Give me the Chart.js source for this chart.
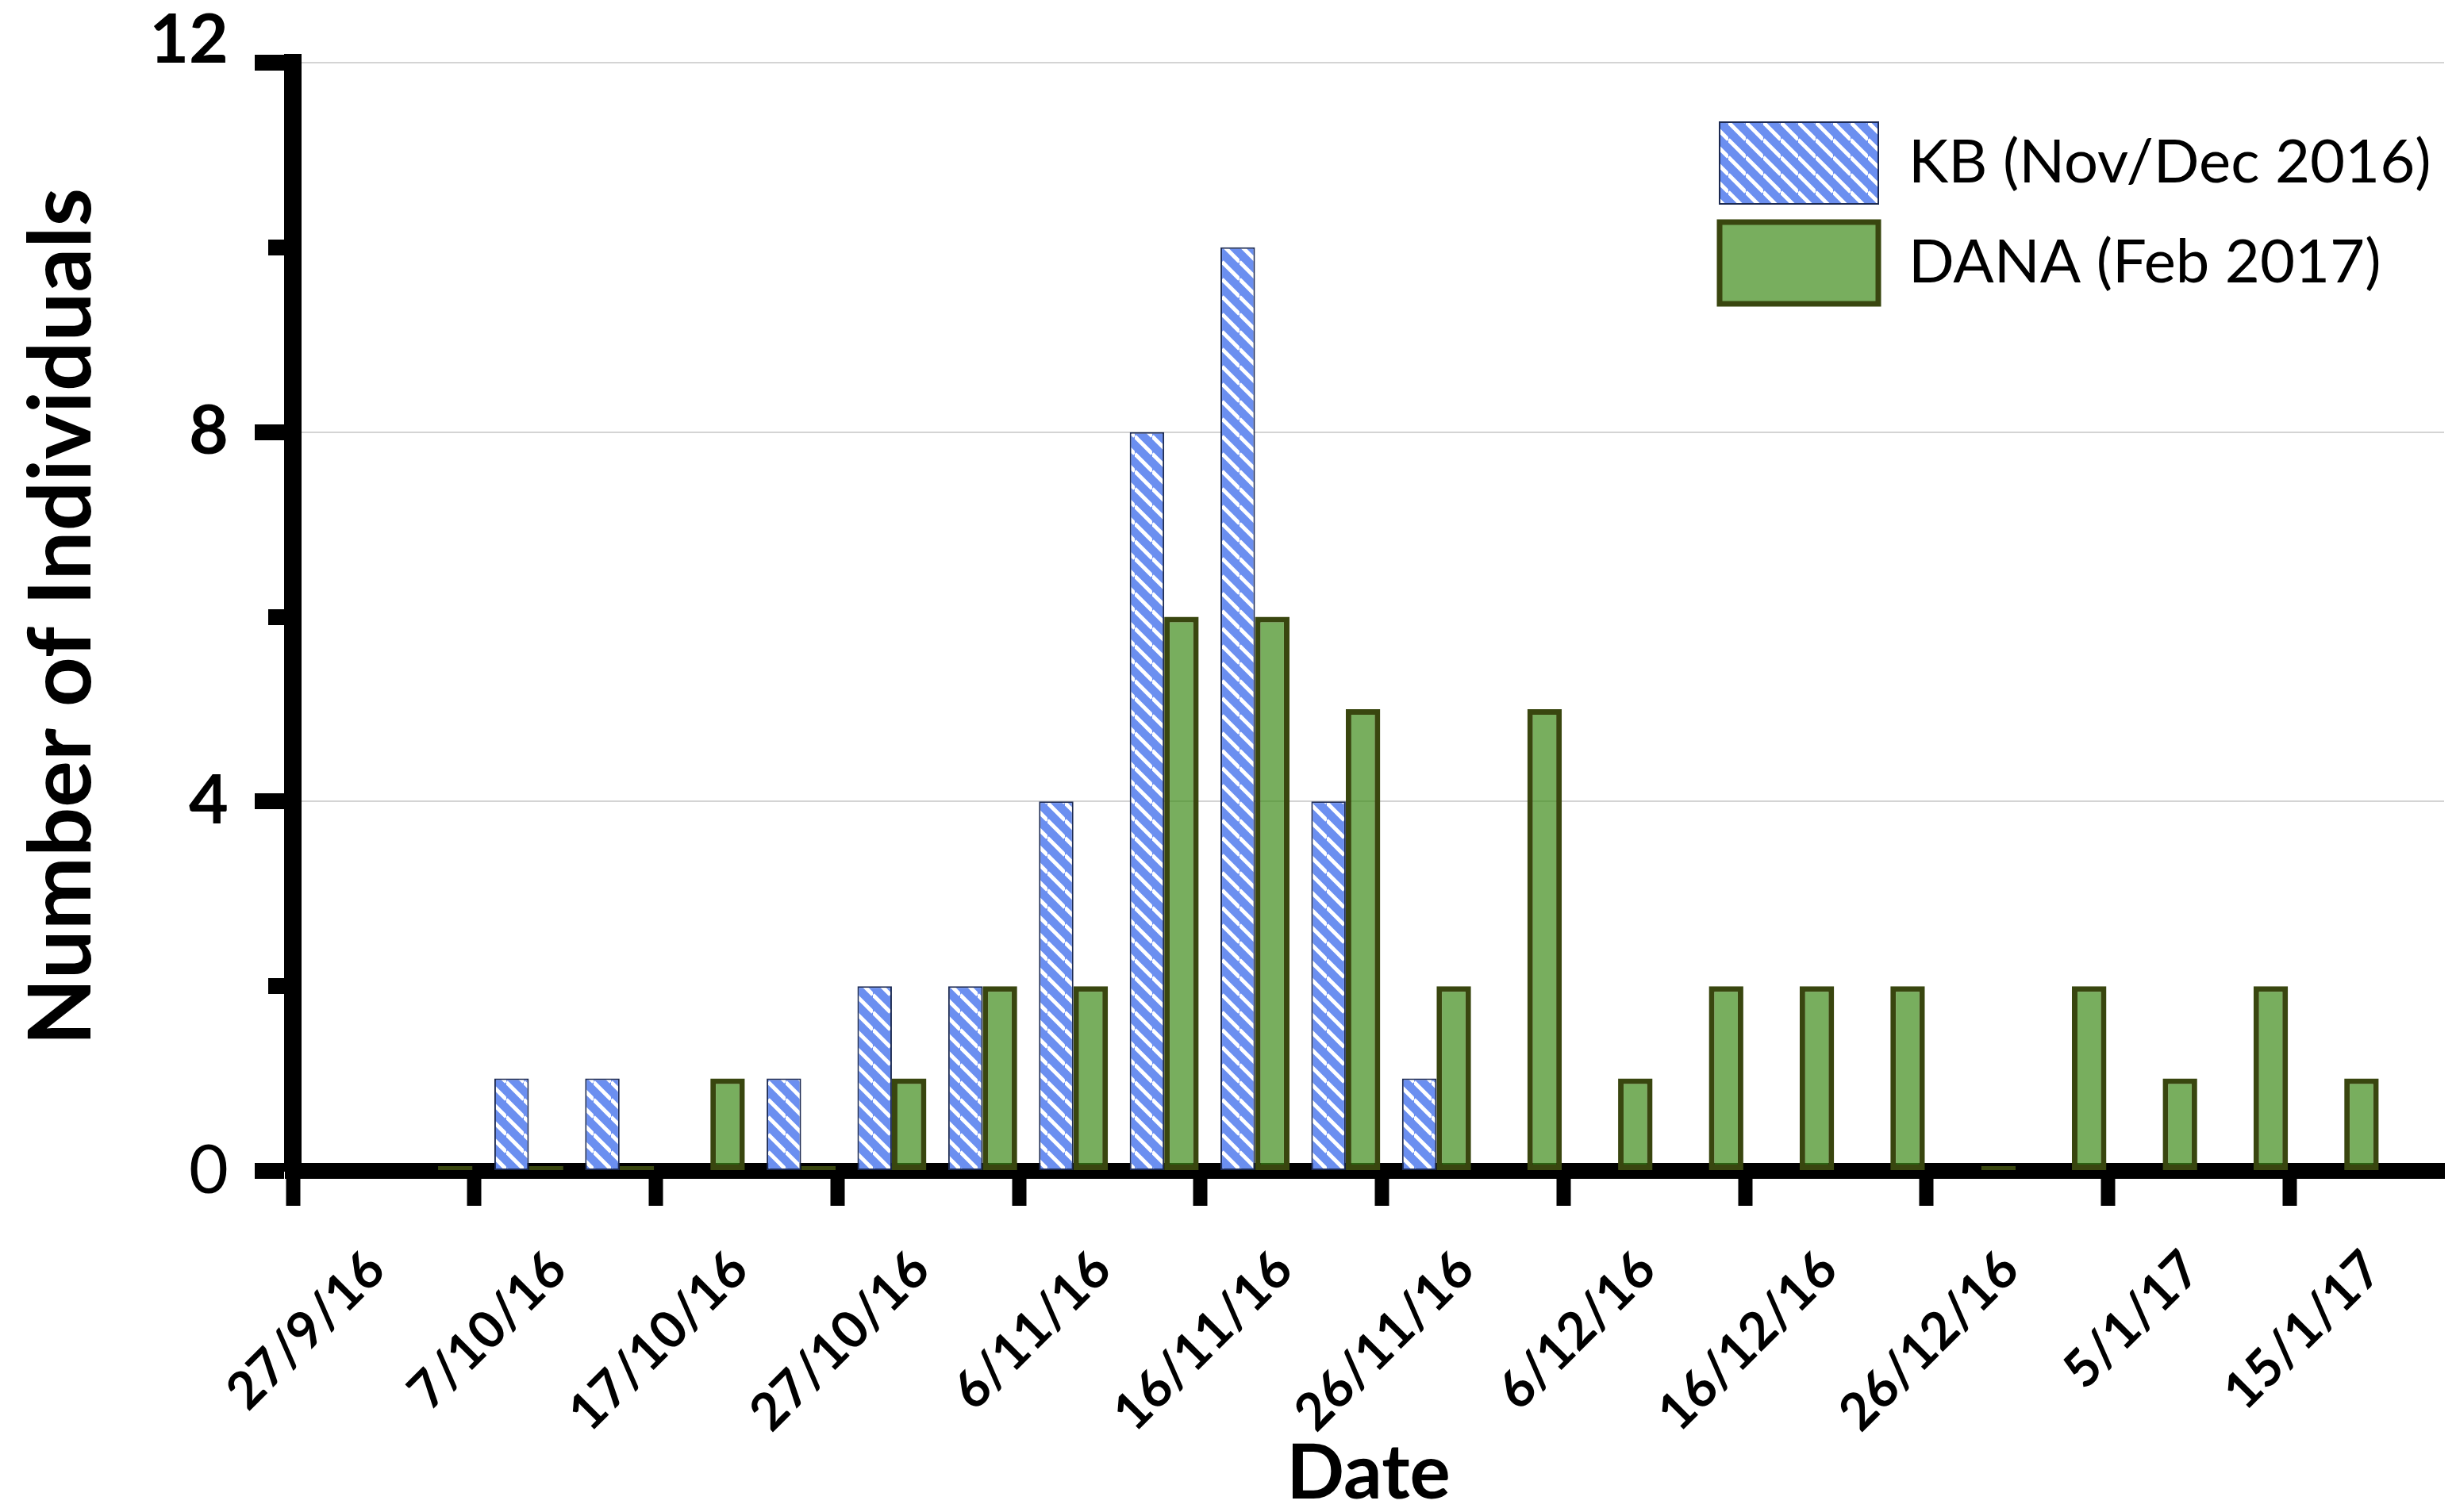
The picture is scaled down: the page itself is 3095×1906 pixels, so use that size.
<!DOCTYPE html>
<html>
<head>
<meta charset="utf-8">
<script src="https://cdn.jsdelivr.net/npm/chart.js@4.4.1/dist/chart.umd.min.js"></script>
<style>
html, body { margin: 0; padding: 0; background: #fff; }
</style>
</head>
<body>
<canvas id="chart" width="3095" height="1906"></canvas>
<script>
// bins are 5 days wide, x = days after 27/9/16
var binDays = [8, 13, 18, 23, 28, 33, 38, 43, 48, 53, 58, 63, 68, 73, 78, 83, 88, 93, 98, 103, 108, 113];
var kbCounts = [0, 1, 1, 0, 1, 2, 2, 4, 8, 10, 4, 1, null, null, null, null, null, null, null, null, null, null];
var danaCounts = [0, 0, 0, 1, 0, 1, 2, 2, 6, 6, 5, 2, 5, 1, 2, 2, 2, 0, 2, 1, 2, 1];

var tickDays = [0, 10, 20, 30, 40, 50, 60, 70, 80, 90, 100, 110];
var tickLabels = ['27/9/16', '7/10/16', '17/10/16', '27/10/16', '6/11/16', '16/11/16',
    '26/11/16', '6/12/16', '16/12/16', '26/12/16', '5/1/17', '15/1/17'];

function points(vals) {
    return vals.map(function(v, i) {
        return { x: binDays[i], y: v };
    });
}

// blue hatch for KB
function hatch() {
    var s = 22;
    var cv = document.createElement('canvas');
    cv.width = s;
    cv.height = s;
    var g = cv.getContext('2d');
    g.fillStyle = '#6b8ff0';
    g.fillRect(0, 0, s, s);
    g.strokeStyle = '#ffffff';
    g.lineWidth = 5;
    for (var c = -s; c <= s; c += s) {
        g.beginPath();
        g.moveTo(0, c);
        g.lineTo(s, c + s);
        g.stroke();
    }
    return g.createPattern(cv, 'repeat');
}

// put the legend box up in the top right of the plot
var legendSpot = {
    id: 'legendSpot',
    afterLayout: function(chart) {
        var lg = chart.legend;
        var a = chart.chartArea;
        var w = lg.width, h = lg.height;
        lg.left = a.right - 936;
        lg.right = lg.left + w;
        lg.top = a.top + 52;
        lg.bottom = lg.top + h;
    }
};

Chart.defaults.font.family = 'Lato';
Chart.defaults.color = '#000';

var ctx = document.getElementById('chart').getContext('2d');
var config = {
    type: 'bar',
    data: {
        datasets: [{
            label: 'KB (Nov/Dec 2016)',
            data: points(kbCounts),
            backgroundColor: hatch(),
            borderColor: '#1c2a52',
            borderWidth: 2,
            borderSkipped: false,
            categoryPercentage: 0.76,
            barPercentage: 1.0,
            clip: false
        }, {
            label: 'DANA (Feb 2017)',
            data: points(danaCounts),
            backgroundColor: 'rgba(62,140,25,0.7)',
            borderColor: '#39460f',
            borderWidth: 7,
            borderSkipped: false,
            minBarLength: 6,
            categoryPercentage: 0.76,
            barPercentage: 1.0,
            clip: false
        }]
    },
    options: {
        responsive: false,
        animation: false,
        layout: { padding: { left: 0, top: 79, right: 15, bottom: 0 } },
        plugins: {
            tooltip: { enabled: false },
            legend: {
                position: 'chartArea',
                align: 'start',
                labels: {
                    boxWidth: 200,
                    boxHeight: 103,
                    padding: 23,
                    font: { size: 76 },
                    color: '#000'
                }
            }
        },
        scales: {
            x: {
                type: 'linear',
                min: 0,
                max: 118.5,
                offset: false,
                afterFit: function(s) {
                    s.height = 430;
                    s.paddingLeft = 0;
                    s.paddingRight = 0;
                },
                afterBuildTicks: function(s) {
                    s.ticks = tickDays.map(function(v) { return { value: v }; });
                },
                grid: {
                    offset: false,
                    drawOnChartArea: false,
                    tickLength: 44,
                    tickWidth: 18,
                    tickColor: '#000'
                },
                border: { color: '#000', width: 20 },
                ticks: {
                    autoSkip: false,
                    minRotation: 45,
                    maxRotation: 45,
                    padding: 42,
                    labelOffset: 105,
                    font: { size: 65, weight: 'bold' },
                    callback: function(v, i) { return tickLabels[i]; }
                },
                title: {
                    display: true,
                    text: 'Date',
                    font: { size: 96, weight: 'bold', lineHeight: 0.8 },
                    padding: { top: 0, bottom: 10 }
                }
            },
            y: {
                min: 0,
                max: 12,
                afterFit: function(s) {
                    s.width = 369;
                    s.paddingTop = 0;
                    s.paddingBottom = 0;
                },
                grid: {
                    color: function(c) {
                        return (c.tick && c.tick.value > 0 && c.tick.value % 4 === 0) ? '#d4d4d4' : 'rgba(0,0,0,0)';
                    },
                    lineWidth: 2,
                    tickLength: 48,
                    tickWidth: 20,
                    tickColor: '#000',
                    tickBorderDash: function(c) {
                        return (c.tick && c.tick.value % 4 !== 0) ? [20, 200] : [];
                    },
                    tickBorderDashOffset: 203
                },
                border: { color: '#000', width: 22 },
                ticks: {
                    stepSize: 2,
                    padding: 33,
                    font: function(c) {
                        var zero = c.tick && c.tick.value === 0;
                        return { size: 86, weight: zero ? 'normal' : 'bold', lineHeight: 0.65 };
                    },
                    callback: function(v) {
                        if (v === 12) return ['12', ''];
                        return v % 4 === 0 ? String(v) : '';
                    }
                },
                title: {
                    display: true,
                    text: 'Number of Individuals',
                    font: { size: 110, weight: 'bold', lineHeight: 0.8 },
                    padding: { top: 35, bottom: 0 }
                }
            }
        }
    },
    plugins: [legendSpot]
};

var chart = new Chart(ctx, config);
</script>
</body>
</html>
